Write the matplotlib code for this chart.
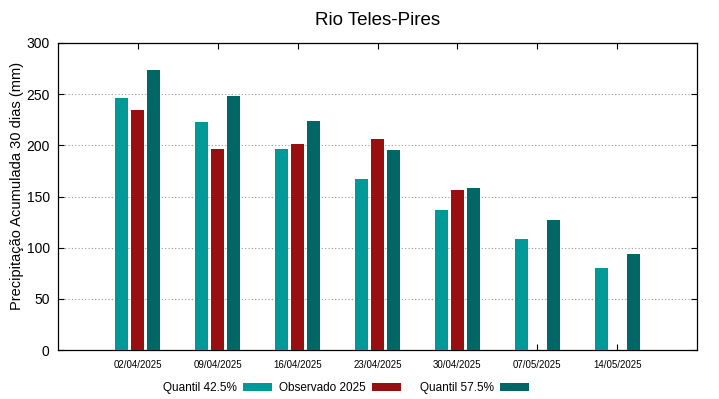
import numpy as np
import matplotlib
matplotlib.use("Agg")
import matplotlib.pyplot as plt

plt.rcParams['font.family'] = ['Liberation Sans', 'DejaVu Sans']

datas = ["02/04/2025", "09/04/2025", "16/04/2025", "23/04/2025",
         "30/04/2025", "07/05/2025", "14/05/2025"]
q425 = [246, 223, 196, 167, 137, 108, 80]
obs2025 = [234.5, 196, 201.5, 206, 156, np.nan, np.nan]
q575 = [274, 248, 223.5, 195, 158, 127, 94]

x = np.arange(len(datas))
w = 0.165
off = 0.2

fig = plt.figure(figsize=(7.19, 3.99), dpi=100)
ax = fig.add_axes([58/719, 1-350/399, (697-58)/719, (350-43)/399])

b1 = ax.bar(x - off, q425, w, color='#009999', zorder=3)
b2 = ax.bar(x, obs2025, w, color='#990e0e', zorder=3)
b3 = ax.bar(x + off, q575, w, color='#006666', zorder=3)

ax.set_xlim(-1, 7)
ax.set_ylim(0, 300)
ax.set_yticks(range(0, 301, 50))
ax.set_xticks(x)
ax.set_xticklabels(datas, fontsize=7)
ax.tick_params(axis='y', labelsize=10, direction='in', length=4, right=True, pad=6)
ax.tick_params(axis='x', direction='in', length=4, top=True, pad=7)
ax.grid(axis='y', linestyle=(0, (1, 2)), color='#999999', linewidth=0.8, zorder=0)
for s in ax.spines.values():
    s.set_linewidth(0.9)

ax.set_ylabel("Precipitação Acumulada 30 dias (mm)", fontsize=10.5)
ax.yaxis.set_label_coords(-0.053, 0.534)
ax.set_title("Rio Teles-Pires", fontsize=13.5, pad=13)

# legenda estilo gnuplot: texto à esquerda, amostra à direita
rotulos = ['Quantil 42.5%', 'Observado 2025', 'Quantil 57.5%']
fim_x = [272, 401, 529]
for h, lab, fx in zip([b1, b2, b3], rotulos, fim_x):
    fig.legend([h], [lab], loc='center right', bbox_to_anchor=(fx/719, 1-388/399),
               frameon=False, markerfirst=False, borderpad=0, borderaxespad=0,
               fontsize=8.5, handlelength=2.45, handleheight=0.6, handletextpad=0.5)

fig.savefig("out.png", dpi=100)
